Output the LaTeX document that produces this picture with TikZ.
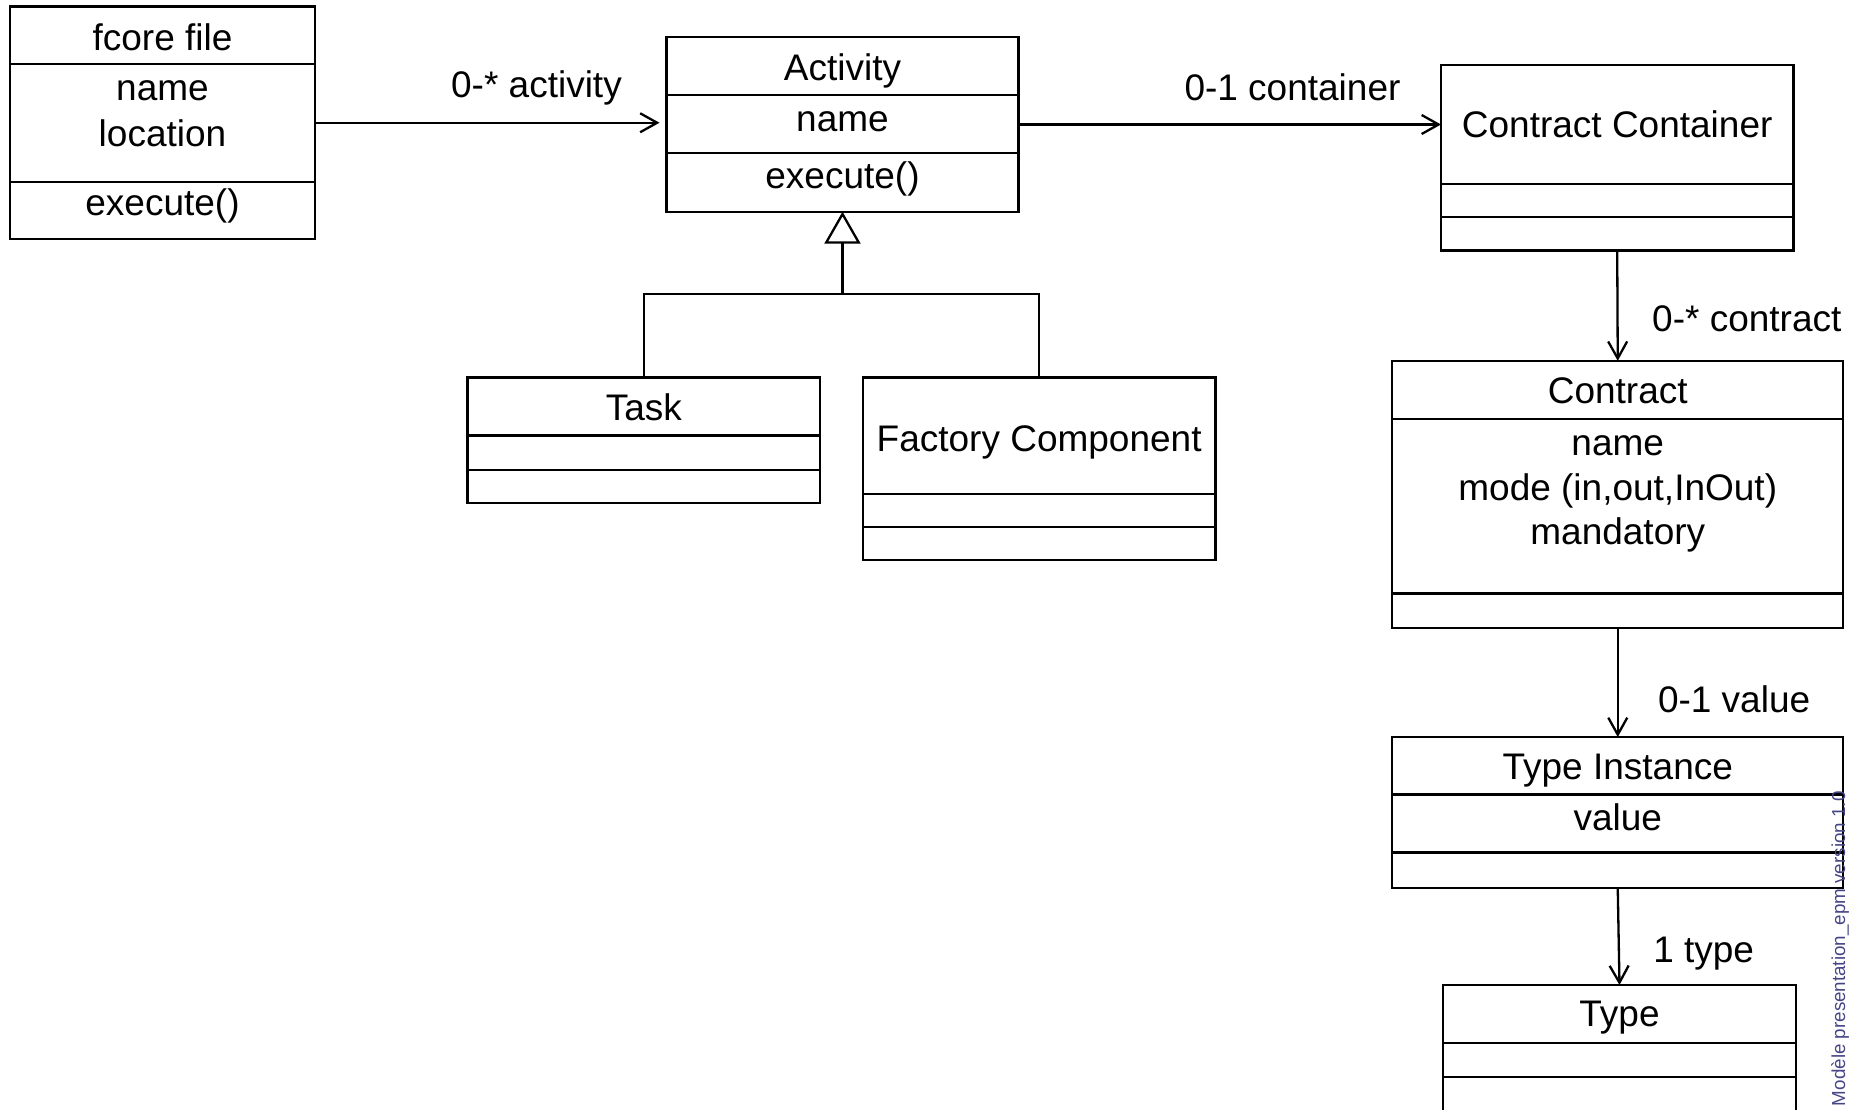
\documentclass[tikz,border=0pt]{standalone}
\usepackage{fontspec}
\setmainfont{Liberation Sans}
\usetikzlibrary{arrows.meta}
\definecolor{footercol}{RGB}{70,70,135}

% horizontal compartment line across a class box at height #2
\newcommand\compline[2]{\draw[boxline] (#1.west |- 0,#2) -- (#1.east |- 0,#2);}

\begin{document}
\begin{tikzpicture}[x=1pt,y=-1pt,
  every node/.style={inner sep=0pt, outer sep=0pt},
  boxline/.style={line width=2.3pt},
  umlbox/.style={draw, line width=2.3pt, rectangle, anchor=north west},
  lbl/.style={font=\fontsize{37}{44.6}\selectfont, anchor=base},
  lblw/.style={lbl, anchor=base west},
  assoc/.style={line width=2.3pt, -{Straight Barb[length=17pt,width=19pt]}},
  gen/.style={line width=2.3pt, -{Triangle[open,length=32pt,width=36pt]}},
  footer/.style={font=\fontsize{18.8}{22}\selectfont, text=footercol, anchor=base west, rotate=90},
]
\useasboundingbox (0,0) rectangle (1861,1109);
\clip (0,0) rectangle (1861,1109);

% ---- fcore file
\node[umlbox, minimum width=305pt, minimum height=232.5pt] (fcore) at (10,6.5) {};
\compline{fcore}{64.3}
\compline{fcore}{181.7}
\node[lbl] (fcoreT) at (fcore.north |- 0,50.7) {fcore file};
\node[lbl] (fcoreA1) at (fcore.north |- 0,100) {name};
\node[lbl] (fcoreA2) at (fcore.north |- 0,146) {location};
\node[lbl] (fcoreO) at (fcore.north |- 0,215) {execute()};

% ---- Activity
\node[umlbox, minimum width=352pt, minimum height=175pt] (act) at (666.5,36.7) {};
\compline{act}{95}
\compline{act}{153.3}
\node[lbl] (actT) at (act.north |- 0,80.7) {Activity};
\node[lbl] (actA) at (act.north |- 0,131.7) {name};
\node[lbl] (actO) at (act.north |- 0,188.3) {execute()};

% ---- Task
\node[umlbox, minimum width=352.5pt, minimum height=125.8pt] (task) at (467.6,377.4) {};
\compline{task}{435.6}
\compline{task}{470}
\node[lbl] (taskT) at (task.north |- 0,420) {Task};

% ---- Factory Component
\node[umlbox, minimum width=352.5pt, minimum height=182.8pt] (fc) at (862.9,377.4) {};
\compline{fc}{493.8}
\compline{fc}{527}
\node[lbl] (fcT) at (fc.north |- 0,451) {Factory Component};

% ---- Contract Container
\node[umlbox, minimum width=352.4pt, minimum height=185.1pt] (cc) at (1441,65.3) {};
\compline{cc}{184}
\compline{cc}{217.2}
\node[lbl] (ccT) at (cc.north |- 0,137.6) {Contract Container};

% ---- Contract
\node[umlbox, minimum width=451.1pt, minimum height=267.1pt] (con) at (1392.2,360.8) {};
\compline{con}{419}
\compline{con}{593.4}
\node[lbl] (conT) at (con.north |- 0,403.5) {Contract};
\node[lbl] (conA1) at (con.north |- 0,455.7) {name};
\node[lbl] (conA2) at (con.north |- 0,500.8) {mode (in,out,InOut)};
\node[lbl] (conA3) at (con.north |- 0,544.7) {mandatory};

% ---- Type Instance
\node[umlbox, minimum width=451.1pt, minimum height=151.3pt] (ti) at (1392.2,737) {};
\compline{ti}{794.5}
\compline{ti}{852.5}
\node[lbl] (tiT) at (ti.north |- 0,779) {Type Instance};
\node[lbl] (tiA) at (ti.north |- 0,830.5) {value};

% ---- Type (runs past the lower edge)
\node[umlbox, minimum width=352.4pt, minimum height=140pt] (type) at (1443.3,985) {};
\compline{type}{1043.3}
\compline{type}{1076.7}
\node[lbl] (typeT) at (type.north |- 0,1026.7) {Type};

% ---- associations
\draw[assoc, shorten >=7pt] (fcore.east) -- (fcore.east -| act.west);
\node[lbl] (l1) at (536.5,97.5) {0-* activity};

\coordinate (ccIn) at (cc.west |- 0,124.5);
\draw[assoc] (act.east |- ccIn) -- (ccIn);
\node[lbl] (l2) at (1292.5,100) {0-1 container};

\draw[assoc] (cc.south) -- (con.north);
\node[lblw] (l3) at (1652.2,331) {0-* contract};

\draw[assoc] (con.south) -- (ti.north);
\node[lblw] (l4) at (1658,712.5) {0-1 value};

\draw[assoc] (ti.south) -- (type.north);
\node[lblw] (l5) at (1653.3,962.5) {1 type};

% ---- generalization
\coordinate (genbar) at (act.south |- 0,294.3);
\draw[boxline] (task.north) |- (genbar) -| (fc.north);
\draw[gen] (genbar) -- (act.south);

% ---- footer
\node[footer] (foot) at (1845,1106) {Modèle presentation\_epm version 1.0};
\end{tikzpicture}
\end{document}
